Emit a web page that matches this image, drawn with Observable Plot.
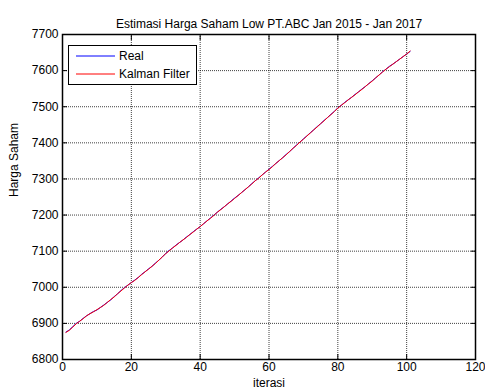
<!DOCTYPE html>
<html>
<head>
<meta charset="utf-8">
<script src="https://cdn.jsdelivr.net/npm/d3@7"></script>
<script src="https://cdn.jsdelivr.net/npm/@observablehq/plot@0.6"></script>
<style>
  html, body { margin: 0; padding: 0; background: white; }
  #wrap { position: relative; width: 485px; height: 389px; overflow: hidden; }
  #legend { position: absolute; left: 68px; top: 45px; width: 127px; height: 38px;
    border: 1.5px solid black; background: white; font: 12px "Liberation Sans", Arial, sans-serif; }
  .row { position: absolute; left: 7px; height: 14px; display: flex; align-items: center; }
  .row svg { margin-right: 4px; }
</style>
</head>
<body>
<div id="wrap"></div>
<script>
const title = "Estimasi Harga Saham Low PT.ABC Jan 2015 - Jan 2017";
const xLabel = "iterasi";
const yLabel = "Harga Saham";
const seriesNames = ["Real", "Kalman Filter"];
const seriesColors = ["#0000ff", "#ff0000"];
const xTicks = [0, 20, 40, 60, 80, 100, 120];
const yTicks = [6800, 6900, 7000, 7100, 7200, 7300, 7400, 7500, 7600, 7700];

const iter = d3.range(1, 102);
const real = [
  6876, 6882, 6891, 6900, 6906, 6914, 6921, 6927, 6933, 6937,
  6944, 6951, 6958, 6965, 6974, 6982, 6991, 6999, 7006, 7013,
  7020, 7027, 7036, 7043, 7051, 7058, 7067, 7075, 7084, 7094,
  7102, 7109, 7117, 7124, 7131, 7139, 7146, 7154, 7161, 7168,
  7176, 7184, 7192, 7200, 7208, 7216, 7223, 7231, 7239, 7247,
  7254, 7262, 7270, 7278, 7287, 7295, 7303, 7311, 7319, 7327,
  7335, 7343, 7351, 7359, 7368, 7376, 7385, 7394, 7402, 7411,
  7419, 7428, 7436, 7445, 7453, 7462, 7470, 7479, 7487, 7497,
  7504, 7512, 7519, 7526, 7534, 7541, 7549, 7556, 7564, 7572,
  7580, 7588, 7597, 7604, 7612, 7618, 7625, 7632, 7639, 7646,
  7653
];
const kalman = [
  6875, 6881, 6890, 6899, 6906, 6913, 6921, 6927, 6932, 6938,
  6944, 6950, 6958, 6966, 6973, 6982, 6990, 6998, 7006, 7013,
  7019, 7027, 7035, 7043, 7050, 7058, 7066, 7075, 7084, 7093,
  7101, 7109, 7116, 7124, 7131, 7138, 7146, 7153, 7161, 7168,
  7176, 7184, 7191, 7199, 7208, 7215, 7223, 7231, 7238, 7246,
  7254, 7262, 7270, 7278, 7286, 7295, 7302, 7311, 7319, 7326,
  7334, 7343, 7351, 7359, 7367, 7376, 7385, 7393, 7402, 7410,
  7419, 7427, 7436, 7444, 7453, 7461, 7470, 7478, 7487, 7496,
  7504, 7511, 7519, 7526, 7533, 7541, 7548, 7556, 7564, 7571,
  7580, 7588, 7596, 7604, 7611, 7618, 7625, 7632, 7639, 7646,
  7654
];

const data = [];
iter.forEach((x, i) => {
  data.push({x, y: real[i], s: seriesNames[0]});
});
iter.forEach((x, i) => {
  data.push({x, y: kalman[i], s: seriesNames[1]});
});

const chart = Plot.plot({
  width: 485,
  height: 389,
  marginTop: 34,
  marginBottom: 30,
  marginLeft: 62,
  marginRight: 10,
  style: {fontFamily: "'Liberation Sans', Arial, sans-serif", fontSize: "12px", background: "white", color: "black"},
  x: {domain: [0, 120]},
  y: {domain: [6800, 7700]},
  color: {domain: seriesNames, range: seriesColors},
  marks: [
    Plot.gridX(xTicks, {stroke: "black", strokeOpacity: 0.75, strokeDasharray: "1,1"}),
    Plot.gridY(yTicks, {stroke: "black", strokeOpacity: 0.75, strokeDasharray: "1,1"}),
    Plot.axisX(xTicks, {anchor: "bottom", tickSize: 0, tickPadding: 3, label: null, fontSize: 12, tickFormat: "d"}),
    Plot.axisX(xTicks, {anchor: "bottom", tickSize: -5, text: null, label: null}),
    Plot.axisX(xTicks, {anchor: "top", tickSize: -5, text: null, label: null}),
    Plot.axisY(yTicks, {anchor: "left", tickSize: 0, tickPadding: 4, label: null, fontSize: 12, tickFormat: "d"}),
    Plot.axisY(yTicks, {anchor: "left", tickSize: -5, text: null, label: null}),
    Plot.axisY(yTicks, {anchor: "right", tickSize: -5, text: null, label: null}),
    Plot.line(data, {x: "x", y: "y", z: "s", stroke: "s", strokeWidth: 1}),
    Plot.frame({stroke: "black", strokeWidth: 1.5}),
    Plot.text([title], {frameAnchor: "top", dy: -15, fontSize: 12}),
    Plot.text([xLabel], {frameAnchor: "bottom", dy: 27, fontSize: 12}),
    Plot.text([yLabel], {frameAnchor: "left", dx: -48, rotate: -90, fontSize: 12})
  ]
});
const wrap = document.getElementById("wrap");
wrap.appendChild(chart);

const legend = document.createElement("div");
legend.id = "legend";
seriesNames.forEach((name, i) => {
  const row = document.createElement("div");
  row.className = "row";
  row.style.top = (3 + i * 18) + "px";
  row.innerHTML = `<svg width="39" height="4"><line x1="0" x2="39" y1="2" y2="2" stroke="${seriesColors[i]}" stroke-width="1"/></svg><span>${name}</span>`;
  legend.appendChild(row);
});
wrap.appendChild(legend);
</script>
</body>
</html>
